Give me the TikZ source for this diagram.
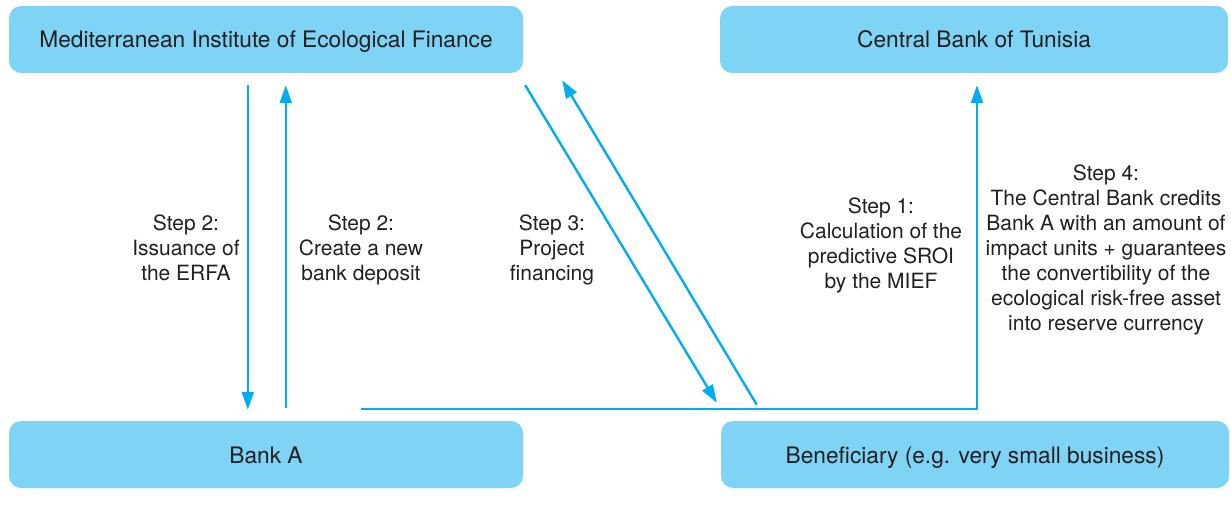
\documentclass[tikz,border=0pt]{standalone}
\usepackage{fontspec}
\setmainfont{TeX Gyre Heros}
\usetikzlibrary{arrows.meta,calc}
\definecolor{boxfill}{HTML}{7FD3F5}
\definecolor{arrowblue}{HTML}{00AEEF}
\definecolor{txt}{HTML}{231F20}
\begin{document}
\begin{tikzpicture}[x=1pt,y=-1pt,
  boxnode/.style={fill=boxfill,rounded corners=12pt,minimum width=514pt,minimum height=67pt,inner sep=0pt,
    text height=17pt,text depth=0pt,text=txt,font=\fontsize{22.7}{27}\selectfont},
  stepnode/.style={align=center,inner sep=0pt,text=txt,font=\fontsize{21}{25}\selectfont,anchor=base},
  arr/.style={draw=arrowblue,line width=2.4pt,-{Triangle[length=18pt,width=12pt]}}]
\useasboundingbox (0,0) rectangle (1231,513);
\node[boxnode] (mief) at (266,39.5) {Mediterranean Institute of Ecological Finance};
\node[boxnode,minimum width=508pt] (cbt) at (974,39.5) {Central Bank of Tunisia};
\node[boxnode] (banka) at (266,454.5) {Bank A};
\node[boxnode,minimum width=508pt] (ben) at (975,454.5) {Beneficiary (e.g. very small business)};

\node[stepnode] (s2a) at (186,280) {Step 2:\\Issuance of\\the ERFA};
\node[stepnode] (s2b) at (361,280) {Step 2:\\Create a new\\bank deposit};
\node[stepnode] (s3) at (552,280) {Step 3:\\Project\\financing};
\node[stepnode] (s1) at (881,288) {Step 1:\\Calculation of the\\predictive SROI\\by the MIEF};
\node[stepnode] (s4) at (1106,330) {Step 4:\\The Central Bank credits\\Bank A with an amount of\\impact units + guarantees\\the convertibility of the\\ecological risk-free asset\\into reserve currency};

\draw[arr] ([xshift=239pt,yshift=-12pt]mief.south west) -- ([xshift=239pt,yshift=11pt]banka.north west);
\draw[arr] ([xshift=277pt,yshift=13pt]banka.north west) -- ([xshift=277pt,yshift=-12pt]mief.south west);
\draw[arr] ([xshift=2pt,yshift=-12pt]mief.south east) -- ([xshift=-4pt,yshift=18pt]ben.north west);
\draw[arr] ([xshift=36pt,yshift=16pt]ben.north west) -- ([xshift=39pt,yshift=-7pt]mief.south east);
\draw[arr] ([xshift=352pt,yshift=12pt]banka.north west) -| ([xshift=3pt,yshift=-12pt]cbt.south);
\end{tikzpicture}
\end{document}
